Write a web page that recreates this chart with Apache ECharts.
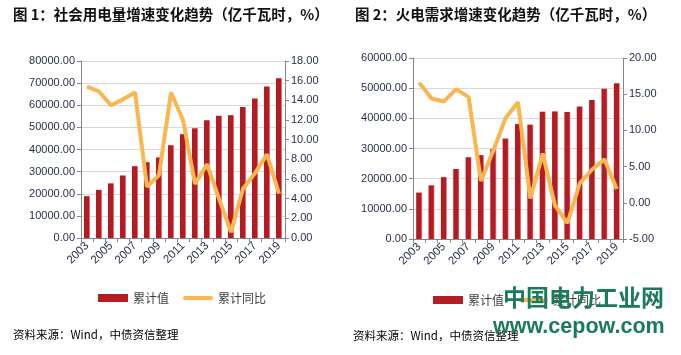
<!DOCTYPE html>
<html>
<head>
<meta charset="utf-8">
<script src="https://cdn.jsdelivr.net/npm/echarts@6/dist/echarts.min.js"></script>
<style>
html,body{margin:0;padding:0;background:#fff;}
#c{width:681px;height:355px;}
</style>
</head>
<body>
<div id="c"></div>
<script>
var years = ['2003','2004','2005','2006','2007','2008','2009','2010','2011','2012','2013','2014','2015','2016','2017','2018','2019'];
var chart1Total = [18910, 21761, 24689, 28248, 32458, 34268, 36430, 41923, 46928, 49591, 53223, 55233, 55500, 59198, 63077, 68449, 72255];
var chart1Growth = [15.4, 14.9, 13.5, 14.1, 14.8, 5.2, 6.4, 14.8, 12.0, 5.5, 7.5, 4.0, 0.6, 5.0, 6.6, 8.5, 4.5];
var chart2Total = [15400, 17800, 20500, 23200, 27100, 27800, 29800, 33300, 38100, 37900, 42200, 42300, 42100, 43900, 46100, 49800, 51650];
var chart2Growth = [16.6, 14.4, 14.0, 15.7, 14.6, 3.0, 7.2, 11.7, 13.9, 0.6, 6.8, -0.4, -2.8, 2.7, 4.6, 6.0, 1.9];
var title1 = '图 1：社会用电量增速变化趋势（亿千瓦时，%）';
var title2 = '图 2：火电需求增速变化趋势（亿千瓦时，%）';
var sourceText = '资料来源：Wind，中债资信整理';
var seriesNames = ['累计值', '累计同比'];

var FONT = 'Liberation Sans, Arial, sans-serif';
var CJK = 'Noto Sans CJK SC, sans-serif';
var labelColor = '#1F2A44';
var axisColor = '#868686';
var gridColor = '#D9D9D9';
var barSolid = '#B51B23';
var barColor = new echarts.graphic.LinearGradient(0, 0, 1, 0, [
  {offset: 0, color: barSolid},
  {offset: 0.78, color: barSolid},
  {offset: 1, color: '#E9A3A6'}
]);
var lineColor = '#FAB651';
var lineIcon = 'path://M2,0 L28,0 A2,2 0 0 1 28,4 L2,4 A2,2 0 0 1 2,0 Z';

function fmt(v){ return v.toFixed(2); }

function xAxis(gi){
  return {
    type: 'category', gridIndex: gi, data: years, boundaryGap: true,
    axisLine: {show: true, lineStyle: {color: axisColor, width: 1}},
    axisTick: {show: true, interval: 0, alignWithLabel: false, length: 4, lineStyle: {color: axisColor}},
    axisLabel: {interval: 1, rotate: 45, margin: 6, fontSize: 11.5, color: labelColor, fontFamily: FONT}
  };
}
function yAxisL(gi, min, max, interval){
  return {
    type: 'value', gridIndex: gi, position: 'left', min: min, max: max, interval: interval,
    axisLine: {show: true, lineStyle: {color: axisColor}},
    axisTick: {show: true, length: 4, lineStyle: {color: axisColor}},
    splitLine: {show: true, lineStyle: {color: gridColor, width: 1}},
    axisLabel: {formatter: fmt, fontSize: 11, color: labelColor, fontFamily: FONT, margin: 6}
  };
}
function yAxisR(gi, min, max, interval){
  return {
    type: 'value', gridIndex: gi, position: 'right', min: min, max: max, interval: interval,
    axisLine: {show: true, lineStyle: {color: axisColor}},
    axisTick: {show: true, length: 4, lineStyle: {color: axisColor}},
    splitLine: {show: false},
    axisLabel: {formatter: fmt, fontSize: 11, color: labelColor, fontFamily: FONT, margin: 6}
  };
}
function legend(left, top){
  return {
    left: left, top: top, itemWidth: 30, itemHeight: 8, itemGap: 14,
    textStyle: {fontSize: 12, color: '#404040', fontFamily: CJK},
    data: [
      {name: seriesNames[0], icon: 'rect', itemStyle: {color: barSolid}},
      {name: seriesNames[1], icon: lineIcon, itemStyle: {color: lineColor}}
    ]
  };
}

var chart = echarts.init(document.getElementById('c'));
chart.setOption({
  animation: false,
  backgroundColor: '#fff',
  grid: [
    {left: 81, top: 61, width: 204, height: 177},
    {left: 413, top: 58, width: 210, height: 181}
  ],
  xAxis: [xAxis(0), xAxis(1)],
  yAxis: [yAxisL(0, 0, 80000, 10000), yAxisR(0, 0, 18, 2), yAxisL(1, 0, 60000, 10000), yAxisR(1, -5, 20, 5)],
  legend: [legend(93, 287), legend(428, 289)],
  series: [
    {name: seriesNames[0], type: 'bar', xAxisIndex: 0, yAxisIndex: 0, data: chart1Total, barWidth: 6, itemStyle: {color: barColor}},
    {name: seriesNames[1], type: 'line', xAxisIndex: 0, yAxisIndex: 1, data: chart1Growth, symbol: 'none', lineStyle: {color: lineColor, width: 4}, itemStyle: {color: lineColor}},
    {name: seriesNames[0], type: 'bar', xAxisIndex: 1, yAxisIndex: 2, data: chart2Total, barWidth: 6, itemStyle: {color: barColor}},
    {name: seriesNames[1], type: 'line', xAxisIndex: 1, yAxisIndex: 3, data: chart2Growth, symbol: 'none', lineStyle: {color: lineColor, width: 4}, itemStyle: {color: lineColor}}
  ],
  graphic: [
    {type: 'text', left: 13, top: 7, style: {text: title1, font: 'bold 14.5px ' + CJK, fill: '#111'}},
    {type: 'text', left: 355, top: 7, style: {text: title2, font: 'bold 14.5px ' + CJK, fill: '#111'}},
    {type: 'text', left: 13, top: 329, style: {text: sourceText, font: '11.5px ' + CJK, fill: '#000'}},
    {type: 'text', left: 353, top: 330, style: {text: sourceText, font: '11.5px ' + CJK, fill: '#000'}},
    {type: 'text', left: 503, top: 286, z: 100, style: {text: '中国电力工业网', font: 'bold 23px ' + CJK, fill: '#1B7A5D'}},
    {type: 'text', left: 493, top: 316, z: 100, style: {text: 'www.cepow.com', font: 'bold 21.5px Liberation Sans, Arial, sans-serif', fill: '#1B7A5D'}}
  ]
});
</script>
</body>
</html>
